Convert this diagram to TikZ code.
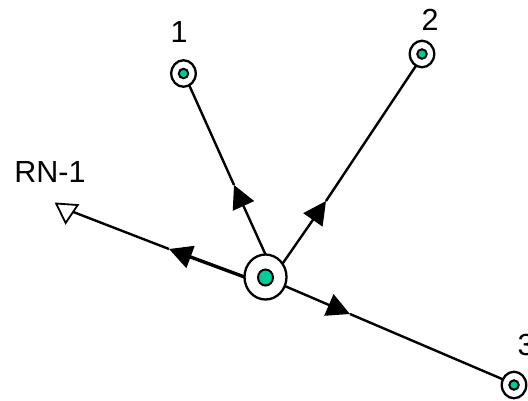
\documentclass[tikz,border=0pt]{standalone}
\usepackage{fontspec}
\setmainfont{Liberation Sans}
\usetikzlibrary{arrows.meta,shapes.geometric}
\definecolor{ink}{HTML}{000000}
\definecolor{core}{HTML}{00CC99}
\tikzset{
  ring/.style={draw=ink,line width=2.3pt,fill=white,ellipse,inner sep=0pt,outer sep=0pt},
  dot/.style={draw=ink,line width=2pt,fill=core,ellipse,inner sep=0pt,outer sep=0pt},
  spoke/.style={draw=ink,line width=2.4pt},
  spoketip/.style={spoke,-{Triangle[length=23pt,width=23pt]}},
  lbl/.style={font=\fontsize{30.5}{33}\selectfont,text=ink,inner sep=0pt}
}
\begin{document}
\begin{tikzpicture}[x=1pt,y=-1pt]
  \useasboundingbox (0,0) rectangle (528,400);
  % Hub
  \node[ring,minimum width=42pt,minimum height=45pt] (hub) at (265.5,277) {};
  \node[dot,minimum width=15pt,minimum height=16pt] (hubcore) at (265.5,277.5) {};
  % Sensors
  \foreach \nn/\xn/\yn in {1/183.5/73.5, 2/422/54, 3/514/385}{
    \node[ring,minimum width=24.5pt,minimum height=26.5pt] (s\nn) at (\xn,\yn) {};
    \node[dot,minimum width=9.5pt,minimum height=9.5pt] (d\nn) at (\xn,\yn) {};
  }
  % Relay
  \node[draw=ink,line width=1.8pt,regular polygon,regular polygon sides=3,shape border rotate=176,
    minimum size=25pt,inner sep=0pt,outer sep=0pt] (rn) at (66.5,210.5) {};
  % Arrow ends
  \coordinate (t1) at (234,185);
  \coordinate (t2) at (326,201);
  \coordinate (t3) at (350,314);
  \coordinate (tr) at (169,249);
  % Connectors
  \draw[spoketip] (hub.90) -- (t1);
  \draw[spoke] (t1) -- (s1.-64);
  \draw[spoketip] (hub.38) -- (t2);
  \draw[spoke] (t2) -- (s2.-117);
  \draw[spoketip] (hub.-25) -- (t3);
  \draw[spoke] (t3) -- (s3.153);
  \draw[spoketip,line width=3.4pt] (hub.180) -- (tr);
  \draw[spoke] (tr) -- (rn.-12);
  % Labels
  \node[lbl] (l1) at (179,32.5) {1};
  \node[lbl] (l2) at (430,20) {2};
  \node[lbl] (l3) at (526,345) {3};
  \node[lbl] (lr) at (50,172) {RN-1};
\end{tikzpicture}
\end{document}
